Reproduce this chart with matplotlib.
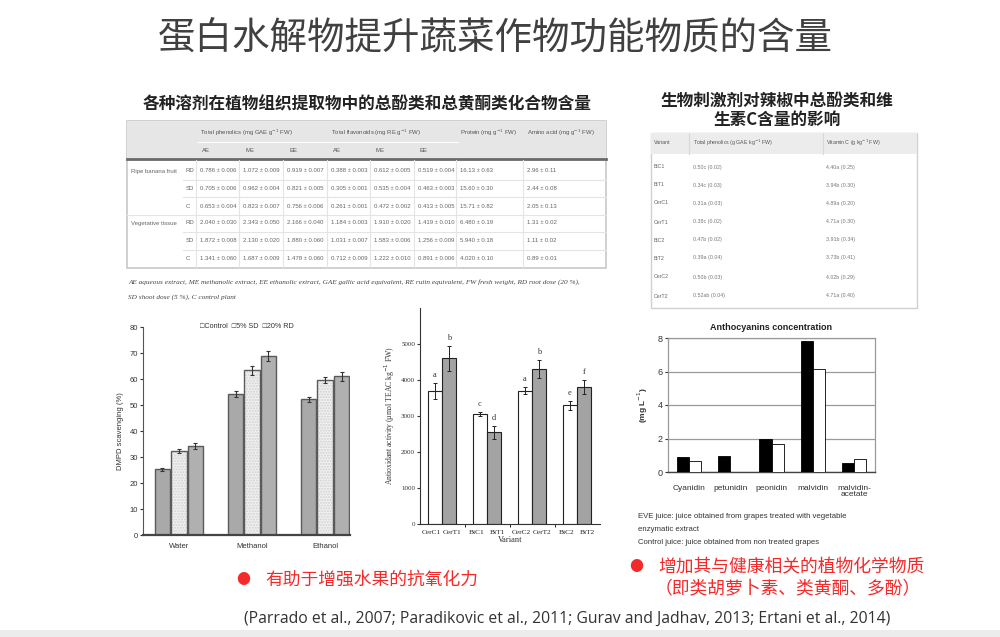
import matplotlib
matplotlib.use("Agg")
import matplotlib.pyplot as plt
from matplotlib.patches import Rectangle

W, H = 1000, 637
CJK = ["Noto Sans CJK SC", "DejaVu Sans"]
SANS = ["Liberation Sans", "DejaVu Sans"]
SERIF = ["Liberation Serif", "DejaVu Serif"]

# --- slide text ---
title = "蛋白水解物提升蔬菜作物功能物质的含量"
left_table_title = "各种溶剂在植物组织提取物中的总酚类和总黄酮类化合物含量"
right_table_title = ["生物刺激剂对辣椒中总酚类和维", "生素C含量的影响"]
bullet_left = "有助于增强水果的抗氧化力"
bullet_right = ["增加其与健康相关的植物化学物质", "（即类胡萝卜素、类黄酮、多酚）"]
citation = ("(Parrado et al., 2007; Paradikovic et al., 2011; "
            "Gurav and Jadhav, 2013; Ertani et al., 2014)")

# --- left table (banana / vegetative tissue) ---
lt_groups = ["Ripe banana fruit", "", "", "Vegetative tissue", "", ""]
lt_doses = ["RD", "SD", "C", "RD", "SD", "C"]
lt_values = [
    ["0.786 ± 0.006", "1.072 ± 0.009", "0.919 ± 0.007", "0.388 ± 0.003",
     "0.612 ± 0.005", "0.519 ± 0.004", "16.13 ± 0.63", "2.96 ± 0.11"],
    ["0.705 ± 0.006", "0.962 ± 0.004", "0.821 ± 0.005", "0.305 ± 0.001",
     "0.535 ± 0.004", "0.463 ± 0.003", "15.60 ± 0.30", "2.44 ± 0.08"],
    ["0.653 ± 0.004", "0.823 ± 0.007", "0.756 ± 0.006", "0.261 ± 0.001",
     "0.472 ± 0.002", "0.413 ± 0.005", "15.71 ± 0.82", "2.05 ± 0.13"],
    ["2.040 ± 0.030", "2.343 ± 0.050", "2.166 ± 0.040", "1.184 ± 0.003",
     "1.910 ± 0.020", "1.419 ± 0.010", "6.480 ± 0.19", "1.31 ± 0.02"],
    ["1.872 ± 0.008", "2.130 ± 0.020", "1.880 ± 0.060", "1.031 ± 0.007",
     "1.583 ± 0.006", "1.256 ± 0.009", "5.940 ± 0.18", "1.11 ± 0.02"],
    ["1.341 ± 0.060", "1.687 ± 0.009", "1.478 ± 0.060", "0.712 ± 0.009",
     "1.222 ± 0.010", "0.891 ± 0.006", "4.020 ± 0.10", "0.89 ± 0.01"],
]
lt_head1 = ["Total phenolics (mg GAE g$^{-1}$ FW)", "Total flavonoids (mg RE g$^{-1}$ FW)",
            "Protein (mg g$^{-1}$ FW)", "Amino acid (mg g$^{-1}$ FW)"]
lt_head2 = ["AE", "ME", "EE", "AE", "ME", "EE"]
lt_note = ["AE aqueous extract, ME methanolic extract, EE ethanolic extract, GAE gallic acid "
           "equivalent, RE rutin equivalent, FW fresh weight, RD root dose (20 %),",
           "SD shoot dose (5 %), C control plant"]

# --- right table (pepper) ---
rt_variants = ["BiC1", "BiT1", "CerC1", "CerT1", "BiC2", "BiT2", "CerC2", "CerT2"]
rt_phenolics = ["0.50c (0.02)", "0.34c (0.03)", "0.31a (0.03)", "0.38c (0.02)",
                "0.47b (0.02)", "0.39a (0.04)", "0.50b (0.03)", "0.52ab (0.04)"]
rt_vitc = ["4.40a (0.25)", "3.94b (0.30)", "4.89a (0.20)", "4.71a (0.30)",
           "3.91b (0.34)", "3.73b (0.41)", "4.02b (0.29)", "4.71a (0.40)"]
rt_head = ["Variant", "Total phenolics (g GAE kg$^{-1}$ FW)", "Vitamin C (g kg$^{-1}$ FW)"]

# --- DMPD chart ---
dmpd_groups = ["Water", "Methanol", "Ethanol"]
dmpd_control = [25.3, 54.2, 52.2]
dmpd_sd5 = [32.3, 63.3, 59.6]
dmpd_rd20 = [34.2, 68.8, 61.0]
dmpd_err_control = [0.5, 1.0, 1.0]
dmpd_err_sd5 = [0.8, 1.8, 1.3]
dmpd_err_rd20 = [1.0, 2.0, 1.8]

# --- antioxidant activity chart ---
aa_labels = ["CerC1", "CerT1", "BiC1", "BiT1", "CerC2", "CerT2", "BiC2", "BiT2"]
aa_control = [3700, 3050, 3700, 3300]
aa_treated = [4600, 2550, 4300, 3800]
aa_err_control = [230, 50, 100, 130]
aa_err_treated = [350, 180, 250, 200]
aa_letters_control = ["a", "c", "a", "e"]
aa_letters_treated = ["b", "d", "b", "f"]

# --- anthocyanins chart ---
anth_cats = ["Cyanidin", "petunidin", "peonidin", "malvidin", "malvidin-\nacetate"]
anth_eve = [0.9, 0.95, 2.0, 7.85, 0.55]
anth_control = [0.65, 0.0, 1.65, 6.15, 0.75]
anth_notes = ["EVE juice: juice obtained from grapes treated with vegetable",
              "enzymatic extract",
              "Control juice: juice obtained from non treated grapes"]


def px_axes(fig, x0, y0, x1, y1, **kw):
    return fig.add_axes([x0 / W, 1 - y1 / H, (x1 - x0) / W, (y1 - y0) / H], **kw)


fig = plt.figure(figsize=(W / 100, H / 100), dpi=100)
fig.patch.set_facecolor("white")

# full-slide canvas in pixel coordinates for the text and the tables
cv = px_axes(fig, 0, 0, W, H, zorder=0)
cv.set_xlim(0, W)
cv.set_ylim(H, 0)
cv.axis("off")

cv.text(495, 38, title, fontsize=27, color="#404040", family=CJK,
        ha="center", va="center")

# left table
cv.text(367, 104, left_table_title, fontsize=12, weight="bold", color="#222222",
        family=CJK, ha="center", va="center")
cv.add_patch(Rectangle((127, 121), 479, 147, facecolor="white", edgecolor="#c8c8c8", lw=1.2))
cv.add_patch(Rectangle((127, 121), 479, 38, facecolor="#e6e6e6", edgecolor="none"))
cv.plot([127, 606], [159, 159], color="#6a6a6a", lw=2)
cv.plot([198, 458], [142, 142], color="white", lw=0.8)
col_x = [200, 243, 287, 331, 374, 418, 460, 527]
row_y = [171, 188, 206, 223, 241, 258]
for xs in [198, 241, 285, 329, 372, 416, 458, 525]:
    cv.plot([xs - 2, xs - 2], [160, 267], color="#e4e4e4", lw=0.8)
for yy in row_y[:-1]:
    x_start = 127 if yy == row_y[2] else 183
    cv.plot([x_start, 606], [yy + 9, yy + 9], color="#e4e4e4", lw=0.8)
tfs = 4.3
for x, h in zip([200, 331, 460, 527], lt_head1):
    cv.text(x, 133, h, fontsize=tfs, color="#555555", family=SANS, va="center")
for x, h in zip(col_x[:6], lt_head2):
    cv.text(x + 2, 151, h, fontsize=tfs, color="#555555", family=SANS, va="center")
for i, y in enumerate(row_y):
    cv.text(131, y, lt_groups[i], fontsize=tfs, color="#666666", family=SANS, va="center")
    cv.text(186, y, lt_doses[i], fontsize=tfs, color="#666666", family=SANS, va="center")
    for x, v in zip(col_x, lt_values[i]):
        cv.text(x, y, v, fontsize=tfs, color="#666666", family=SANS, va="center")
for k, line in enumerate(lt_note):
    cv.text(128, 282 + 15 * k, line, fontsize=5.2, style="italic", color="#444444",
            family=SERIF, va="center")

# right table
for k, line in enumerate(right_table_title):
    cv.text(777, 101 + 19 * k, line, fontsize=12, weight="bold", color="#222222",
            family=CJK, ha="center", va="center")
cv.add_patch(Rectangle((651, 133), 266, 175, facecolor="white", edgecolor="#d0d0d0", lw=1))
cv.add_patch(Rectangle((651, 133), 266, 21, facecolor="#ececec", edgecolor="none"))
for xs in [689, 823]:
    cv.plot([xs, xs], [133, 154], color="#d8d8d8", lw=0.8)
for x, h in zip([654, 693, 826], rt_head):
    cv.text(x, 143, h, fontsize=3.8, color="#555555", family=SANS, va="center")
rt_rows = [167, 185, 203, 222, 240, 258, 277, 296]
for y, v, p, c in zip(rt_rows, rt_variants, rt_phenolics, rt_vitc):
    cv.text(654, y, v, fontsize=3.8, color="#666666", family=SANS, va="center")
    cv.text(693, y, p, fontsize=3.8, color="#777777", family=SANS, va="center")
    cv.text(826, y, c, fontsize=3.8, color="#777777", family=SANS, va="center")

# bullets and citation
red = "#f42a2a"
cv.text(243, 580, "●", fontsize=10, color=red, family=CJK, ha="center", va="center")
cv.text(265, 580, bullet_left, fontsize=12.8, color=red, family=CJK, va="center")
cv.text(636, 567, "●", fontsize=10, color=red, family=CJK, ha="center", va="center")
cv.text(658, 567, bullet_right[0], fontsize=12.8, color=red, family=CJK, va="center")
cv.text(655, 589, bullet_right[1], fontsize=12.8, color=red, family=CJK, va="center")
cv.text(567, 619, citation, fontsize=11.3, color="#333333", family=["Open Sans", "DejaVu Sans"],
        ha="center", va="center")
cv.add_patch(Rectangle((0, 630), W, 7, facecolor="#ececec", edgecolor="none"))

# anthocyanin notes
for k, line in enumerate(anth_notes):
    cv.text(638, 517 + 12.5 * k, line, fontsize=5.6, color="#333333", family=SANS, va="center")

# --- DMPD scavenging chart ---
ax1 = px_axes(fig, 143, 327, 350, 535, zorder=2)
ax1.patch.set_alpha(0)
xs = list(range(len(dmpd_groups)))
off, bw = 0.225, 0.21
series = [(dmpd_control, dmpd_err_control, "#a9a9a9", None),
          (dmpd_sd5, dmpd_err_sd5, "#f0f0f0", "......"),
          (dmpd_rd20, dmpd_err_rd20, "#b0b0b0", None)]
ek1 = dict(ecolor="#333333", elinewidth=0.8, capsize=1.5, capthick=0.8)
for j, (vals, errs, col, hatch) in enumerate(series):
    pos = [x + (j - 1) * off for x in xs]
    if hatch:
        # light dotted fill, then a dark outline on top
        ax1.bar(pos, vals, bw, color=col, edgecolor="#d2d2d2", lw=0, hatch=hatch)
        ax1.bar(pos, vals, bw, color="none", edgecolor="#5a5a5a", lw=1.0,
                yerr=errs, error_kw=ek1)
    else:
        ax1.bar(pos, vals, bw, color=col, edgecolor="#5a5a5a", lw=1.0,
                yerr=errs, error_kw=ek1)
ax1.set_xlim(-0.49, 2.34)
ax1.set_ylim(0, 80)
ax1.set_yticks(range(0, 81, 10))
ax1.set_xticks(xs)
ax1.set_xticklabels(dmpd_groups)
for s in ["top", "right"]:
    ax1.spines[s].set_visible(False)
ax1.spines["left"].set_color("#555555")
ax1.spines["bottom"].set_color("#444444")
ax1.spines["bottom"].set_linewidth(1.6)
ax1.tick_params(axis="y", labelsize=5.5, length=2, pad=1.5, colors="#333333")
ax1.tick_params(axis="x", labelsize=5.5, length=0, pad=6, colors="#333333")
for t in ax1.get_xticklabels() + ax1.get_yticklabels():
    t.set_family(SANS)
ax1.set_ylabel("DMPD scavenging (%)", fontsize=5.5, family=SANS, color="#333333", labelpad=4)
ax1.text(0.5, 1.0, "\u25a1Control  \u25a15% SD  \u25a120% RD", transform=ax1.transAxes,
         fontsize=5.2, family=SANS, color="#333333", ha="center", va="center")

# --- antioxidant activity chart ---
ax2 = px_axes(fig, 420, 308, 600, 524, zorder=2)
ax2.patch.set_alpha(0)
pairs = list(range(len(aa_control)))
off2, bw2 = 0.16, 0.31
pc = [p - off2 for p in pairs]
pt = [p + off2 for p in pairs]
ek = dict(ecolor="#222222", elinewidth=0.7, capsize=1.5, capthick=0.7)
ax2.bar(pc, aa_control, bw2, color="white", edgecolor="#222222", lw=0.8, yerr=aa_err_control, error_kw=ek)
ax2.bar(pt, aa_treated, bw2, color="#a3a3a3", edgecolor="#222222", lw=0.8, yerr=aa_err_treated, error_kw=ek)
for x, v, e, l in zip(pc, aa_control, aa_err_control, aa_letters_control):
    ax2.text(x, v + e + 110, l, fontsize=6, family=SERIF, color="#333333", ha="center", va="bottom")
for x, v, e, l in zip(pt, aa_treated, aa_err_treated, aa_letters_treated):
    ax2.text(x, v + e + 110, l, fontsize=6, family=SERIF, color="#333333", ha="center", va="bottom")
ax2.set_xlim(-0.49, 3.51)
ax2.set_ylim(0, 6000)
ax2.set_yticks(range(0, 5001, 1000))
# labels sit a little wider apart than the bars, as in the source figure
label_pos = [x for p in pairs for x in (p - 0.23, p + 0.23)]
ax2.set_xticks(label_pos)
ax2.set_xticklabels(aa_labels)
ax2.set_xticks([0.5, 1.5, 2.5], minor=True)
ax2.tick_params(axis="x", which="major", length=0, labelsize=5.3, pad=4, colors="#222222")
ax2.tick_params(axis="x", which="minor", length=2.5, direction="out")
ax2.tick_params(axis="y", labelsize=5, length=2, pad=1.5, colors="#333333")
for t in ax2.get_xticklabels() + ax2.get_yticklabels():
    t.set_family(SERIF)
for s in ["top", "right"]:
    ax2.spines[s].set_visible(False)
for s in ["left", "bottom"]:
    ax2.spines[s].set_linewidth(0.8)
    ax2.spines[s].set_color("#333333")
ax2.set_xlabel("Variant", fontsize=6, family=SERIF, color="#333333", labelpad=1)
ax2.set_ylabel("Antioxidant activity (\u00b5mol TEAC kg$^{-1}$ FW)", fontsize=5.5,
               family=SERIF, color="#333333", labelpad=3)

# --- anthocyanins chart ---
ax3 = px_axes(fig, 668, 338, 875, 472, zorder=2)
ax3.patch.set_alpha(0)
cx = list(range(len(anth_cats)))
off3, bw3 = 0.145, 0.29
ax3.bar([x - off3 for x in cx], anth_eve, bw3, color="black", edgecolor="black", lw=0.6, zorder=3)
ax3.bar([x + off3 for x in cx], anth_control, bw3, color="white", edgecolor="black", lw=0.6, zorder=3)
ax3.set_xlim(-0.5, 4.5)
ax3.set_ylim(0, 8)
ax3.set_yticks(range(0, 9, 2))
ax3.yaxis.grid(True, color="#9a9a9a", lw=0.9)
ax3.set_axisbelow(True)
ax3.set_xticks(cx)
ax3.set_xticklabels(anth_cats, linespacing=1.0)
ax3.tick_params(axis="x", length=0, labelsize=6, pad=9, colors="#333333")
ax3.tick_params(axis="y", labelsize=6.5, length=2, pad=2, colors="#333333")
for t in ax3.get_xticklabels() + ax3.get_yticklabels():
    t.set_family(SANS)
for s in ["top", "right", "left"]:
    ax3.spines[s].set_color("#9a9a9a")
    ax3.spines[s].set_linewidth(0.9)
ax3.spines["bottom"].set_color("#444444")
ax3.spines["bottom"].set_linewidth(1.0)
ax3.set_ylabel("(mg L$^{-1}$)", fontsize=6, weight="bold", family=SANS, color="#333333", labelpad=5)
ax3.set_title("Anthocyanins concentration", fontsize=6.5, weight="bold", family=SANS,
              color="#222222", pad=6)

fig.savefig("out.png", dpi=100, facecolor="white")
